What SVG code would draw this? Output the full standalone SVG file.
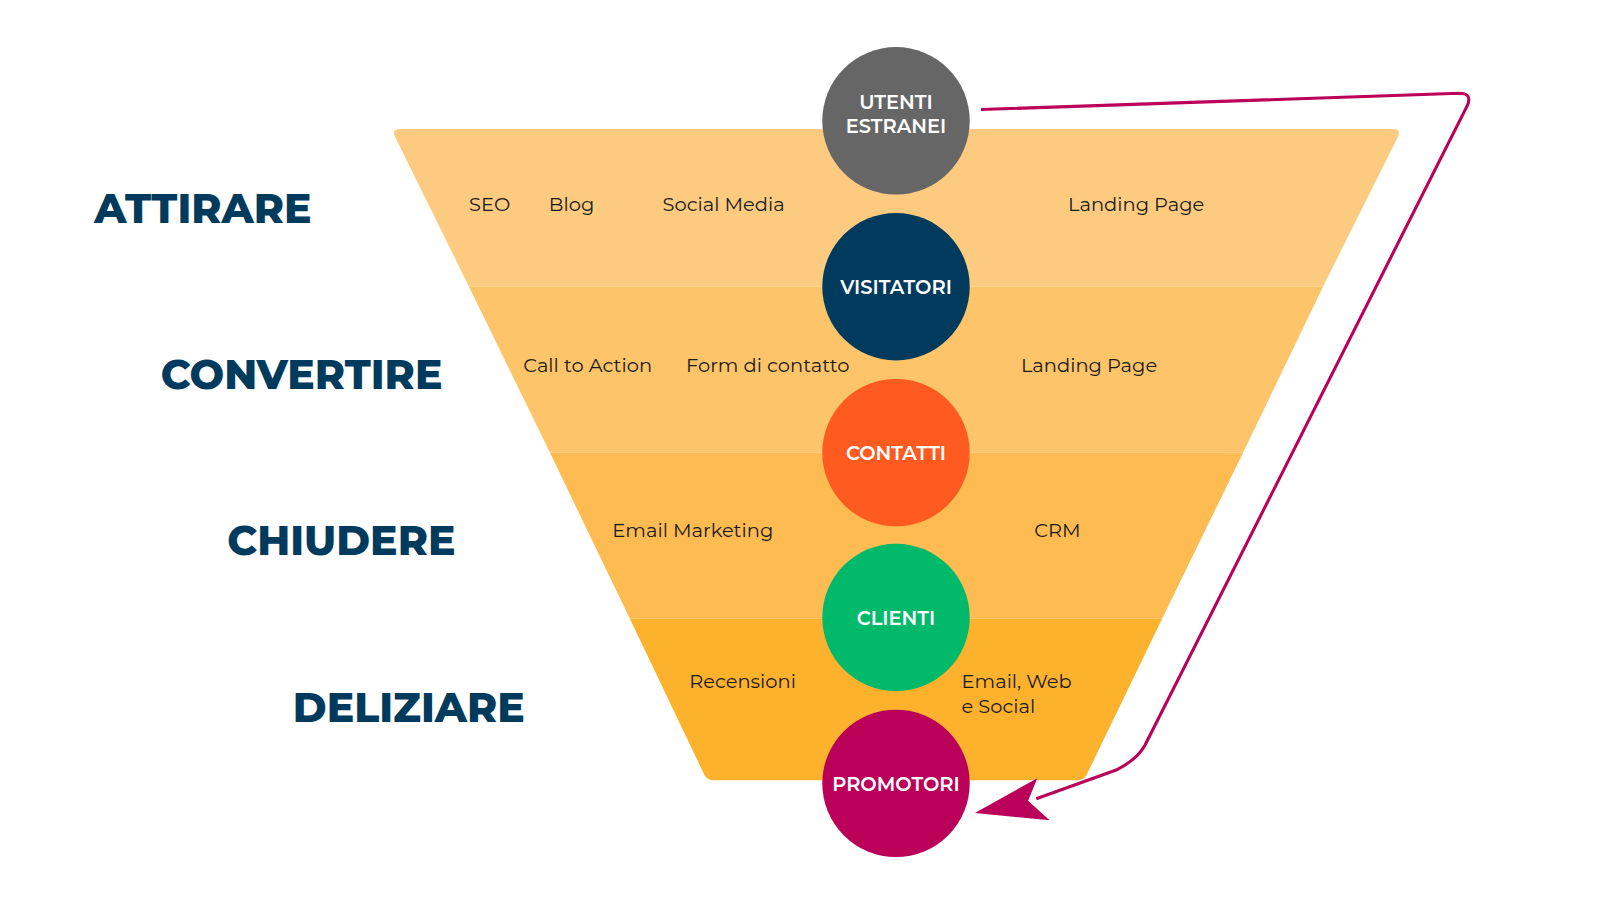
<svg xmlns="http://www.w3.org/2000/svg" width="1600" height="900" viewBox="0 0 1600 900">
<style>
.lab{font-family:Montserrat,"Open Sans","Liberation Sans",sans-serif;font-size:19px;fill:#1a1a1a}
.stage{font-family:Montserrat,"Open Sans","Liberation Sans",sans-serif;font-size:40px;font-weight:800;fill:#003A5D}
.ct{font-family:Montserrat,"Open Sans","Liberation Sans",sans-serif;font-size:19px;font-weight:600;fill:#fff;text-anchor:middle}
</style>
<rect width="1600" height="900" fill="#fff"/>
<g transform="scale(1.024)">
<g id="funnel">
<path d="M391,126 L1360,126 Q1369,126 1365,134 L1292,280 L458,280 L386,134 Q382,126 391,126Z" fill="#FDCB80"/>
<path d="M458,280 L1292,280 L1214,442 L537,442Z" fill="#FDC46A"/>
<path d="M537,442 L1214,442 L1135,604 L615,604Z" fill="#FDBB52"/>
<path d="M615,604 L1135,604 L1061,757 Q1058,762 1052,762 L697,762 Q691,762 688,757Z" fill="#FDB22E"/>
</g>
<g id="stages">
<text class="stage" x="92" y="218">ATTIRARE</text>
<text class="stage" x="157" y="380">CONVERTIRE</text>
<text class="stage" x="222" y="542">CHIUDERE</text>
<text class="stage" x="286" y="705">DELIZIARE</text>
</g>
<g id="labels">
<text class="lab" x="458" y="206">SEO</text>
<text class="lab" x="536" y="206">Blog</text>
<text class="lab" x="647" y="206">Social Media</text>
<text class="lab" x="1043" y="206">Landing Page</text>
<text class="lab" x="511" y="363">Call to Action</text>
<text class="lab" x="670" y="363">Form di contatto</text>
<text class="lab" x="997" y="363">Landing Page</text>
<text class="lab" x="598" y="524">Email Marketing</text>
<text class="lab" x="1010" y="524">CRM</text>
<text class="lab" x="673" y="672">Recensioni</text>
<text class="lab" x="939" y="672">Email, Web</text>
<text class="lab" x="939" y="696">e Social</text>
</g>
<g id="connectors">
<path d="M958,107 L1425,91 Q1438,91 1433,103 L1118,728 Q1110,742 1090,752 L1012,780" fill="none" stroke="#BA0058" stroke-width="3"/>
<path d="M952,794 L1013,760 L1004,782 L1025,801Z" fill="#BA0058"/>
</g>
<g id="n1"><circle cx="875" cy="118" r="72" fill="#666666"/><text class="ct" x="875" y="106">UTENTI</text><text class="ct" x="875" y="130">ESTRANEI</text></g>
<g id="n2"><circle cx="875" cy="280" r="72" fill="#003A5D"/><text class="ct" x="875" y="287">VISITATORI</text></g>
<g id="n3"><circle cx="875" cy="442" r="72" fill="#FF5A1F"/><text class="ct" x="875" y="449">CONTATTI</text></g>
<g id="n4"><circle cx="875" cy="603" r="72" fill="#00B96B"/><text class="ct" x="875" y="610">CLIENTI</text></g>
<g id="n5"><circle cx="875" cy="765" r="72" fill="#BA0058"/><text class="ct" x="875" y="772">PROMOTORI</text></g>
</g>
</svg>
